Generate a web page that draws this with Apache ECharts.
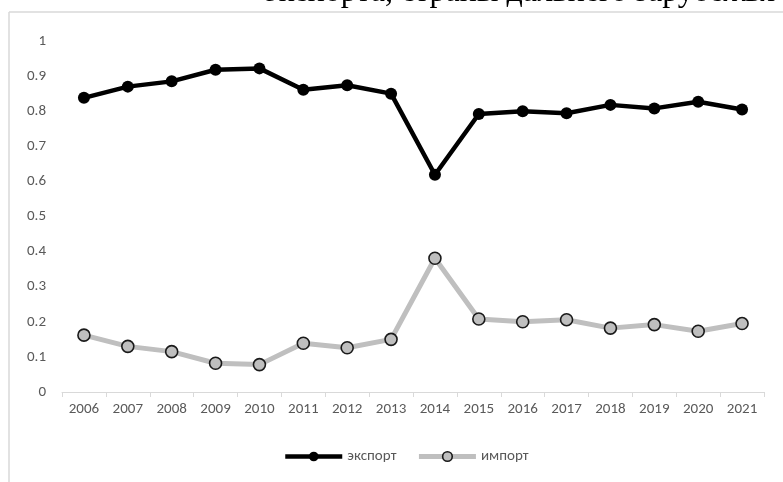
<!DOCTYPE html>
<html>
<head>
<meta charset="utf-8">
<script src="https://cdn.jsdelivr.net/npm/echarts@6/dist/echarts.min.js"></script>
<style>html,body{margin:0;padding:0;background:#fff}#c{width:783px;height:482px}</style>
</head>
<body>
<div id="c"></div>
<script>
const years = ['2006','2007','2008','2009','2010','2011','2012','2013','2014','2015','2016','2017','2018','2019','2020','2021'];
const exportVals = [0.838, 0.870, 0.885, 0.918, 0.922, 0.861, 0.874, 0.850, 0.619, 0.792, 0.800, 0.794, 0.818, 0.808, 0.827, 0.805];
const importVals = [0.162, 0.130, 0.115, 0.082, 0.078, 0.139, 0.126, 0.150, 0.381, 0.208, 0.200, 0.206, 0.182, 0.192, 0.173, 0.195];
const seriesNames = ['экспорт', 'импорт'];
const titleText = 'экспорта, страны дальнего зарубежья';

const chart = echarts.init(document.getElementById('c'));
const labelFont = "Carlito, 'Liberation Sans Narrow', 'Liberation Sans', sans-serif";
chart.setOption({
  animation: false,
  backgroundColor: '#fff',
  graphic: [
    { type: 'text', left: 265, top: -23, z: 10,
      style: { text: titleText, font: "32px 'Liberation Serif', 'DejaVu Serif', serif", fill: '#000' } },
    { type: 'line', shape: { x1: 9, y1: 12, x2: 783, y2: 12 }, style: { stroke: '#d9d9d9', lineWidth: 1.5 } },
    { type: 'line', shape: { x1: 9, y1: 12, x2: 9, y2: 482 }, style: { stroke: '#d9d9d9', lineWidth: 1.5 } }
  ],
  grid: { left: 62, right: 19, top: 41, bottom: 90, containLabel: false },
  legend: {
    bottom: 13, left: 278,
    itemWidth: 57, itemHeight: 12, itemGap: 20,
    textStyle: { color: '#595959', fontSize: 15, fontFamily: labelFont },
    data: [
      { name: seriesNames[0], lineStyle: { color: '#000', width: 4.5 }, itemStyle: { color: '#000' } },
      { name: seriesNames[1], lineStyle: { color: '#bfbfbf', width: 5 }, itemStyle: { color: '#bfbfbf', borderColor: '#1a1a1a', borderWidth: 1.6 } }
    ]
  },
  xAxis: {
    type: 'category', data: years, boundaryGap: true,
    axisLine: { lineStyle: { color: '#d9d9d9', width: 1 } },
    axisTick: { show: true, length: 5, lineStyle: { color: '#d9d9d9' } },
    axisLabel: { color: '#595959', fontSize: 15, fontFamily: labelFont, margin: 10 }
  },
  yAxis: {
    type: 'value', min: 0, max: 1, interval: 0.1,
    axisLine: { show: false }, axisTick: { show: false },
    splitLine: { show: false },
    axisLabel: { color: '#595959', fontSize: 15, fontFamily: labelFont, margin: 16 }
  },
  series: [
    { name: seriesNames[0], type: 'line', data: exportVals,
      symbol: 'circle', symbolSize: 12,
      lineStyle: { color: '#000', width: 4.5 },
      itemStyle: { color: '#000', borderColor: '#000', borderWidth: 0 } },
    { name: seriesNames[1], type: 'line', data: importVals,
      symbol: 'circle', symbolSize: 12,
      lineStyle: { color: '#bfbfbf', width: 5 },
      itemStyle: { color: '#bfbfbf', borderColor: '#1a1a1a', borderWidth: 1.6 } }
  ]
});
</script>
</body>
</html>
